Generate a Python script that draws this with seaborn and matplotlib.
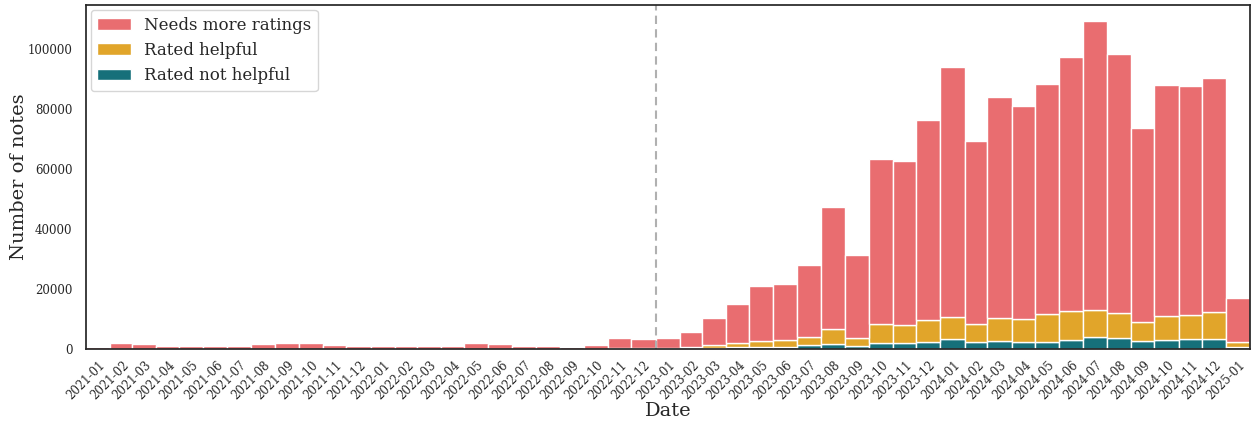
import pandas as pd
import matplotlib
matplotlib.use("Agg")
import matplotlib.pyplot as plt
import matplotlib.dates as mdates
import seaborn as sns

# ----------- DATA -------------------------------------

months = pd.date_range("2021-01-01", "2025-01-01", freq="MS")
month_labels = [m.strftime("%Y-%m") for m in months]

# stacked tops (total, helpful+not helpful, not helpful)
totals = [780, 1880, 1660, 1100, 1100, 1100, 1100, 1660, 2000, 1880, 1440, 1100,
          1100, 890, 890, 890, 1880, 1660, 1100, 1000, 780, 1330, 3700, 3400,
          3650, 5550, 10300, 14950, 21150, 21700, 28000, 47500, 31450, 63400, 62800, 76400,
          94000, 69400, 84000, 81000, 88400, 97300, 109300, 98300, 73700, 88000, 87700, 90300,
          16850]
helpful_top = [60, 90, 80, 60, 60, 60, 60, 80, 90, 90, 70, 60,
               60, 50, 50, 50, 90, 80, 60, 50, 40, 70, 250, 250,
               350, 700, 1300, 2000, 2700, 3000, 4100, 6500, 3600, 8200, 7900, 9600,
               10600, 8300, 10200, 10000, 11500, 12600, 12950, 11950, 9050, 10950, 11200, 12300,
               2200]
not_helpful = [20, 30, 30, 20, 20, 20, 20, 30, 30, 30, 25, 20,
               20, 15, 15, 15, 30, 30, 20, 15, 15, 25, 80, 80,
               100, 200, 300, 500, 700, 800, 1200, 1700, 1100, 2100, 2000, 2400,
               3200, 2300, 2650, 2300, 2400, 3000, 3900, 3750, 2650, 3100, 3300, 3200,
               750]

rated_helpful = [h - n for h, n in zip(helpful_top, not_helpful)]
needs_more = [t - h for t, h in zip(totals, helpful_top)]

statuses = ["Needs more ratings", "Rated helpful", "Rated not helpful"]
colors = ["#e96d70", "#e1a52a", "#16707a"]

# ----------- TABLE ------------

rows = []
for i, m in enumerate(months):
    mid = mdates.date2num(m) + 14
    rows.append({"x": mid, "status": statuses[0], "count": needs_more[i]})
    rows.append({"x": mid, "status": statuses[1], "count": rated_helpful[i]})
    rows.append({"x": mid, "status": statuses[2], "count": not_helpful[i]})
df = pd.DataFrame(rows)

edges = [float(e) for e in mdates.date2num(pd.date_range("2021-01-01", "2025-02-01", freq="MS"))]

# ----------- PLOT ------------

sns.set_theme(style="white")
plt.rcParams["font.family"] = ["DejaVu Serif"]

fig, ax = plt.subplots(figsize=(12.58, 4.25), dpi=100)
fig.subplots_adjust(left=0.068, right=0.994, top=0.988, bottom=0.179)

sns.histplot(data=df, x="x", weights="count", hue="status", hue_order=statuses,
             multiple="stack", bins=edges, palette=colors, alpha=1,
             edgecolor="white", linewidth=1, ax=ax)

ax.axvline(mdates.date2num(pd.Timestamp("2023-01-01")), color="#b0b0b0",
           linestyle=(0, (4, 2.5)), linewidth=1.5)

ax.set_xlim(edges[0], edges[-1])
ax.set_xticks(mdates.date2num(months))
ax.set_xticklabels(month_labels, rotation=45, fontsize=8.5)
ax.tick_params(axis="y", labelsize=8.5)
ax.tick_params(axis="x", pad=1)
ax.set_xlabel("Date", fontsize=14, labelpad=0)
ax.set_ylabel("Number of notes", fontsize=14)
ax.yaxis.set_label_coords(-0.049, 0.5)

sns.move_legend(ax, "upper left", title=None, fontsize=12, borderaxespad=0.3)

fig.savefig("out.png", dpi=100)
